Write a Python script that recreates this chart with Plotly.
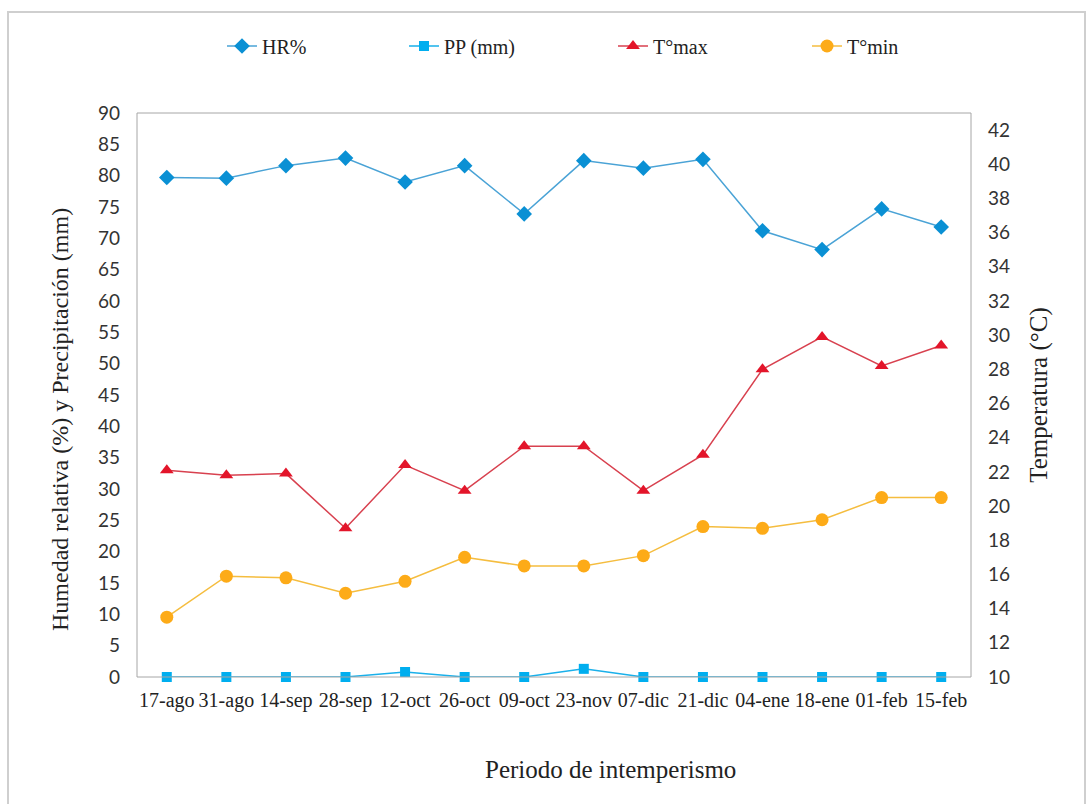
import plotly.graph_objects as go

# Sampling dates (periodo de intemperismo)
fechas = ["17-ago", "31-ago", "14-sep", "28-sep", "12-oct", "26-oct", "09-oct",
          "23-nov", "07-dic", "21-dic", "04-ene", "18-ene", "01-feb", "15-feb"]

# Relative humidity (%) and precipitation (mm) - left axis
hr = [79.7, 79.6, 81.6, 82.8, 79.0, 81.6, 73.9, 82.4, 81.2, 82.6, 71.2, 68.2, 74.7, 71.8]
pp = [0.0, 0.0, 0.0, 0.0, 0.8, 0.0, 0.0, 1.3, 0.0, 0.0, 0.0, 0.0, 0.0, 0.0]

# Max / min temperature (°C) - right axis
t_max = [22.1, 21.8, 21.9, 18.7, 22.4, 20.9, 23.5, 23.5, 20.9, 23.0, 28.0, 29.9, 28.2, 29.4]
t_min = [13.5, 15.9, 15.8, 14.9, 15.6, 17.0, 16.5, 16.5, 17.1, 18.8, 18.7, 19.2, 20.5, 20.5]

W, H = 1091, 804
L, R, T, B = 137, 971, 113, 677  # plot-area edges in pixels

SERIF = "Liberation Serif, Times New Roman, serif"
SANS = "Lato, Open Sans, sans-serif"


def px_x(p):
    return (p - L) / (R - L)


def px_y(p):
    return (B - p) / (B - T)


fig = go.Figure()
fig.add_trace(go.Scatter(
    x=fechas, y=hr, name="HR%", mode="lines+markers", legend="legend", cliponaxis=False,
    line=dict(color="#4aa3d6", width=1.5),
    marker=dict(symbol="diamond", size=12, color="#0a90d4"),
))
fig.add_trace(go.Scatter(
    x=fechas, y=pp, name="PP (mm)", mode="lines+markers", legend="legend2", cliponaxis=False,
    line=dict(color="#1ab0ea", width=1.5),
    marker=dict(symbol="square", size=10, color="#00aeef"),
))
fig.add_trace(go.Scatter(
    x=fechas, y=t_max, name="T°max", mode="lines+markers", yaxis="y2", legend="legend3",
    cliponaxis=False,
    line=dict(color="#d8414f", width=1.5),
    marker=dict(symbol="triangle-up", size=12, color="#e3152a"),
))
fig.add_trace(go.Scatter(
    x=fechas, y=t_min, name="T°min", mode="lines+markers", yaxis="y2", legend="legend4",
    cliponaxis=False,
    line=dict(color="#f5bd3f", width=1.5),
    marker=dict(symbol="circle", size=13, color="#fdab18"),
))

# one legend box per entry, each anchored at its own symbol position
legend_font = dict(family=SERIF, size=20, color="#222")
legend_centres = [242, 424, 633, 827]
legends = {}
for i, cx in enumerate(legend_centres):
    key = "legend" if i == 0 else f"legend{i + 1}"
    legends[key] = dict(
        orientation="h", x=px_x(cx - 20), xanchor="left",
        y=px_y(46), yanchor="middle", font=legend_font,
        bgcolor="rgba(0,0,0,0)",
    )

fig.update_layout(
    width=W, height=H,
    margin=dict(l=L, r=W - R, t=T, b=H - B),
    paper_bgcolor="white", plot_bgcolor="white",
    showlegend=True,
    **legends,
    xaxis=dict(
        type="category", range=[-0.5, len(fechas) - 0.5],
        showgrid=False, showline=False, zeroline=False, ticks="",
        tickfont=dict(family=SERIF, size=20, color="#222"),
        ticklabelstandoff=9,
    ),
    yaxis=dict(
        range=[0, 90], dtick=5, showgrid=False, zeroline=False, showline=False,
        ticks="", ticklabelstandoff=16,
        tickfont=dict(family=SANS, size=19, color="#333"),
    ),
    yaxis2=dict(
        range=[10, 43], tick0=10, dtick=2, overlaying="y", side="right",
        showgrid=False, zeroline=False, showline=False,
        ticks="", ticklabelstandoff=16,
        tickfont=dict(family=SANS, size=19, color="#333"),
        title=dict(text="Temperatura (°C)", standoff=20,
                   font=dict(family=SERIF, size=25, color="#222")),
    ),
    annotations=[
        dict(text="Humedad relativa (%) y Precipitación (mm)", textangle=-90,
             xref="paper", yref="paper", x=px_x(60), y=px_y(420),
             xanchor="center", yanchor="middle", showarrow=False,
             font=dict(family=SERIF, size=24, color="#222")),
        dict(text="Periodo de intemperismo",
             xref="paper", yref="paper", x=px_x(610), y=px_y(770),
             xanchor="center", yanchor="middle", showarrow=False,
             font=dict(family=SERIF, size=25, color="#222")),
    ],
    shapes=[
        # plot-area frame
        dict(type="rect", xref="paper", yref="paper", x0=0, x1=1, y0=0, y1=1,
             line=dict(color="#a6a6a6", width=1), layer="above"),
        # outer chart border
        dict(type="rect", xref="paper", yref="paper",
             x0=px_x(8), x1=px_x(1085), y0=px_y(812), y1=px_y(12),
             line=dict(color="#cfcfcf", width=2), layer="below"),
    ],
)

fig.write_html("out.html")
